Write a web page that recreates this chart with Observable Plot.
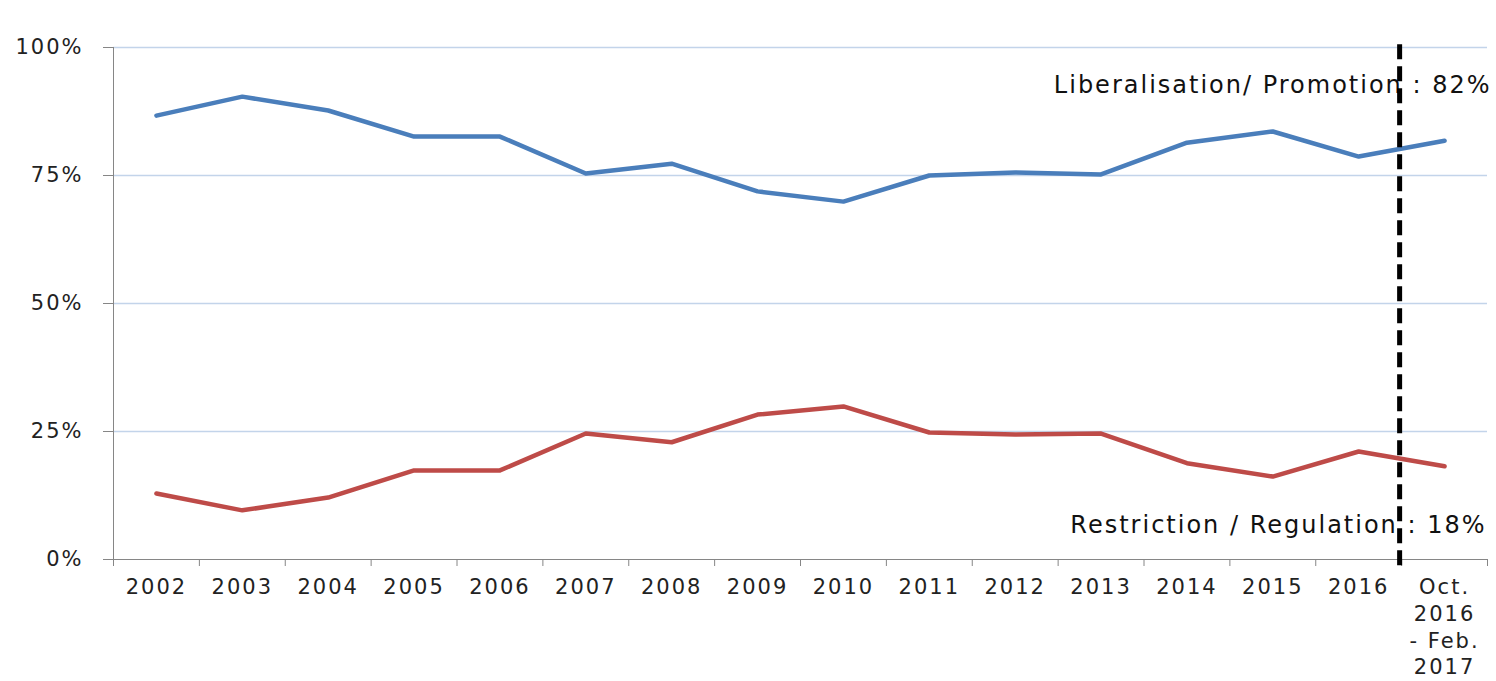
<!DOCTYPE html>
<html>
<head>
<meta charset="utf-8">
<script src="https://cdn.jsdelivr.net/npm/d3@7"></script>
<script src="https://cdn.jsdelivr.net/npm/@observablehq/plot@0.6"></script>
<style>
  html, body { margin: 0; padding: 0; background: white; }
</style>
</head>
<body>
<div id="chart"></div>
<script>
const categories = ["2002", "2003", "2004", "2005", "2006", "2007", "2008", "2009", "2010",
  "2011", "2012", "2013", "2014", "2015", "2016", "Oct.\n2016\n- Feb.\n2017"];
const liberalisation = [86.7, 90.4, 87.7, 82.6, 82.6, 75.4, 77.3, 71.9, 69.9, 75.0, 75.6, 75.2, 81.4, 83.6, 78.7, 81.8];
const restriction = [12.9, 9.6, 12.1, 17.4, 17.4, 24.6, 22.9, 28.3, 29.9, 24.8, 24.4, 24.6, 18.8, 16.2, 21.1, 18.2];
const yTicks = [0, 25, 50, 75, 100];
const seriesNames = ["Liberalisation/ Promotion", "Restriction / Regulation"];
const seriesColors = ["#4a7ebb", "#be4b48"];
const labelLib = "Liberalisation/ Promotion : 82%";
const labelRes = "Restriction / Regulation : 18%";

const rows = [];
categories.forEach((c, i) => {
  rows.push({pos: i + 0.5, value: liberalisation[i], series: seriesNames[0]});
  rows.push({pos: i + 0.5, value: restriction[i], series: seriesNames[1]});
});

const n = categories.length;
const chart = Plot.plot({
  width: 1496,
  height: 681,
  marginLeft: 113,
  marginRight: 9,
  marginTop: 47,
  marginBottom: 122,
  x: {type: "linear", domain: [0, n], axis: null},
  y: {domain: [0, 100], axis: null},
  color: {domain: seriesNames, range: seriesColors},
  style: {fontFamily: "DejaVu Sans", fontSize: "21px", color: "#222", letterSpacing: "2px", background: "white"},
  marks: [
    Plot.gridY(yTicks.filter(d => d > 0), {stroke: "#c3d4ea", strokeOpacity: 1, strokeWidth: 1.3}),
    Plot.axisY(yTicks, {tickSize: 10, tickPadding: 20, stroke: "#868686", fill: "#222", label: null, tickFormat: d => d + "%"}),
    Plot.axisX(d3.range(n + 1), {tickSize: 7, label: null, tickFormat: () => "", stroke: "#868686"}),
    Plot.axisX(categories.map((c, i) => i + 0.5), {tickSize: 0, tickPadding: 16, fill: "#222", lineHeight: 1.27, label: null,
      tickFormat: v => categories[Math.round(v - 0.5)]}),
    Plot.ruleX([0], {stroke: "#868686"}),
    Plot.ruleY([0], {stroke: "#868686"}),
    Plot.line(rows, {x: "pos", y: "value", z: "series", stroke: "series", strokeWidth: 4.5}),
    Plot.text([labelLib], {x: n, y: 92.6, text: d => d, textAnchor: "end", dx: 4, fontSize: 24, fill: "#111"}),
    Plot.text([labelRes], {x: n, y: 6.6, text: d => d, textAnchor: "end", dx: -1, fontSize: 24, fill: "#111"}),
    Plot.ruleX([n - 1], {y1: -1.2, y2: 100.6, stroke: "black", strokeWidth: 5, strokeDasharray: "15,7", dx: -2})
  ]
});
document.getElementById("chart").appendChild(chart);
</script>
</body>
</html>
